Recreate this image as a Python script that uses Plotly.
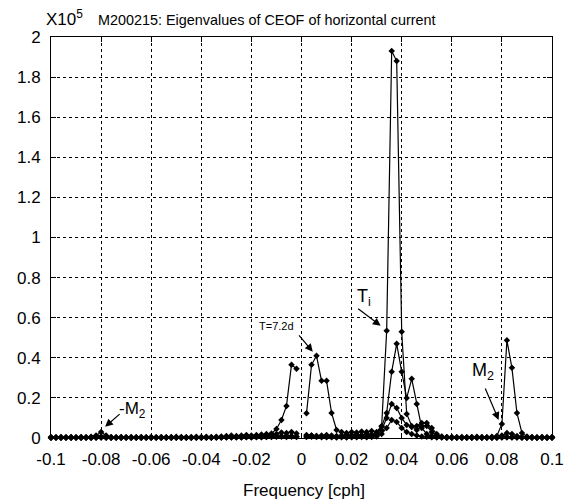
import plotly.graph_objects as go

# ---------------- data ----------------
freq = [
    -0.100, -0.098, -0.096, -0.094, -0.092, -0.090, -0.088, -0.086, -0.084, -0.082,
    -0.080, -0.078, -0.076, -0.074, -0.072, -0.070, -0.068, -0.066, -0.064, -0.062,
    -0.060, -0.058, -0.056, -0.054, -0.052, -0.050, -0.048, -0.046, -0.044, -0.042,
    -0.040, -0.038, -0.036, -0.034, -0.032, -0.030, -0.028, -0.026, -0.024, -0.022,
    -0.020, -0.018, -0.016, -0.014, -0.012, -0.010, -0.008, -0.006, -0.004, -0.002,
    0.000,
    0.002, 0.004, 0.006, 0.008, 0.010, 0.012, 0.014, 0.016, 0.018, 0.020,
    0.022, 0.024, 0.026, 0.028, 0.030, 0.032, 0.034, 0.036, 0.038, 0.040,
    0.042, 0.044, 0.046, 0.048, 0.050, 0.052, 0.054, 0.056, 0.058, 0.060,
    0.062, 0.064, 0.066, 0.068, 0.070, 0.072, 0.074, 0.076, 0.078, 0.080,
    0.082, 0.084, 0.086, 0.088, 0.090, 0.092, 0.094, 0.096, 0.098, 0.100,
]

# eigenvalues (x 1e5), zero frequency not plotted (None)
eig1 = [
    0.005, 0.004, 0.005, 0.004, 0.005, 0.004, 0.005, 0.004, 0.006, 0.012,
    0.030, 0.012, 0.005, 0.004, 0.005, 0.004, 0.005, 0.004, 0.005, 0.004,
    0.005, 0.004, 0.005, 0.004, 0.005, 0.006, 0.005, 0.004, 0.005, 0.006,
    0.005, 0.006, 0.005, 0.006, 0.008, 0.010, 0.012, 0.010, 0.012, 0.015,
    0.012, 0.015, 0.018, 0.020, 0.022, 0.045, 0.090, 0.160, 0.365, 0.345,
    None,
    0.123, 0.365, 0.410, 0.285, 0.285, 0.125, 0.040, 0.030, 0.025, 0.030,
    0.028, 0.032, 0.030, 0.035, 0.030, 0.060, 0.535, 1.930, 1.880, 0.530,
    0.120, 0.060, 0.040, 0.060, 0.060, 0.030, 0.012, 0.006, 0.005, 0.005,
    0.004, 0.005, 0.004, 0.005, 0.006, 0.005, 0.004, 0.006, 0.010, 0.070,
    0.487, 0.350, 0.125, 0.025, 0.008, 0.005, 0.004, 0.005, 0.004, 0.005,
]

eig2 = [
    0.002, 0.003, 0.002, 0.003, 0.002, 0.003, 0.002, 0.003, 0.002, 0.004,
    0.008, 0.004, 0.002, 0.003, 0.002, 0.003, 0.002, 0.003, 0.002, 0.003,
    0.002, 0.003, 0.002, 0.003, 0.002, 0.003, 0.002, 0.003, 0.002, 0.003,
    0.003, 0.004, 0.003, 0.004, 0.005, 0.006, 0.008, 0.006, 0.008, 0.010,
    0.008, 0.010, 0.012, 0.010, 0.015, 0.020, 0.028, 0.025, 0.030, 0.022,
    None,
    0.015, 0.012, 0.010, 0.012, 0.015, 0.012, 0.010, 0.012, 0.015, 0.015,
    0.018, 0.015, 0.020, 0.018, 0.020, 0.057, 0.125, 0.330, 0.470, 0.330,
    0.200, 0.295, 0.170, 0.050, 0.020, 0.010, 0.006, 0.004, 0.003, 0.002,
    0.003, 0.002, 0.003, 0.002, 0.003, 0.002, 0.003, 0.002, 0.004, 0.012,
    0.025, 0.020, 0.010, 0.005, 0.003, 0.002, 0.003, 0.002, 0.003, 0.002,
]

eig3 = [
    0.001, 0.002, 0.001, 0.002, 0.001, 0.002, 0.001, 0.002, 0.001, 0.002,
    0.003, 0.002, 0.001, 0.002, 0.001, 0.002, 0.001, 0.002, 0.001, 0.002,
    0.001, 0.002, 0.001, 0.002, 0.001, 0.002, 0.001, 0.002, 0.001, 0.002,
    0.002, 0.002, 0.002, 0.003, 0.003, 0.004, 0.004, 0.005, 0.004, 0.005,
    0.005, 0.006, 0.005, 0.006, 0.008, 0.008, 0.010, 0.012, 0.010, 0.008,
    None,
    0.010, 0.012, 0.010, 0.008, 0.008, 0.006, 0.006, 0.008, 0.006, 0.008,
    0.008, 0.010, 0.008, 0.010, 0.015, 0.040, 0.100, 0.170, 0.150, 0.100,
    0.065, 0.055, 0.060, 0.075, 0.075, 0.050, 0.020, 0.008, 0.004, 0.002,
    0.002, 0.001, 0.002, 0.001, 0.002, 0.001, 0.002, 0.001, 0.002, 0.004,
    0.006, 0.004, 0.003, 0.002, 0.001, 0.002, 0.001, 0.002, 0.001, 0.002,
]

eig4 = [
    0.001, 0.001, 0.001, 0.001, 0.001, 0.001, 0.001, 0.001, 0.001, 0.001,
    0.002, 0.001, 0.001, 0.001, 0.001, 0.001, 0.001, 0.001, 0.001, 0.001,
    0.001, 0.001, 0.001, 0.001, 0.001, 0.001, 0.001, 0.001, 0.001, 0.001,
    0.001, 0.001, 0.001, 0.002, 0.002, 0.002, 0.003, 0.003, 0.003, 0.004,
    0.003, 0.004, 0.004, 0.005, 0.005, 0.006, 0.006, 0.005, 0.006, 0.005,
    None,
    0.005, 0.006, 0.005, 0.004, 0.004, 0.004, 0.003, 0.004, 0.003, 0.004,
    0.004, 0.005, 0.004, 0.005, 0.008, 0.020, 0.050, 0.090, 0.080, 0.050,
    0.030, 0.020, 0.012, 0.008, 0.006, 0.004, 0.003, 0.002, 0.001, 0.001,
    0.001, 0.001, 0.001, 0.001, 0.001, 0.001, 0.001, 0.001, 0.001, 0.002,
    0.003, 0.002, 0.002, 0.001, 0.001, 0.001, 0.001, 0.001, 0.001, 0.001,
]

series = [eig4, eig3, eig2, eig1]

x_ticks = [-0.1, -0.08, -0.06, -0.04, -0.02, 0, 0.02, 0.04, 0.06, 0.08, 0.1]
x_tick_text = ["-0.1", "-0.08", "-0.06", "-0.04", "-0.02", "0", "0.02", "0.04", "0.06", "0.08", "0.1"]
y_ticks = [0, 0.2, 0.4, 0.6, 0.8, 1.0, 1.2, 1.4, 1.6, 1.8, 2.0]
y_tick_text = ["0", "0.2", "0.4", "0.6", "0.8", "1", "1.2", "1.4", "1.6", "1.8", "2"]

FONT = "Liberation Sans, Arial, sans-serif"

fig = go.Figure()
for s in series:
    fig.add_trace(go.Scatter(
        x=freq, y=s, mode="lines+markers",
        line=dict(color="black", width=1.2),
        marker=dict(symbol="diamond", size=5, color="black"),
        connectgaps=False, cliponaxis=False, showlegend=False,
    ))

axis_common = dict(
    showline=True, linecolor="black", linewidth=1, mirror="ticks",
    ticks="inside", ticklen=5, tickcolor="black",
    showgrid=True, gridcolor="black", gridwidth=1, griddash="dot",
    zeroline=False, tickfont=dict(family=FONT, size=17, color="black"),
)

fig.update_xaxes(range=[-0.1, 0.1], tickvals=x_ticks, ticktext=x_tick_text,
                 ticklabelstandoff=6, **axis_common)
fig.update_yaxes(range=[0, 2], tickvals=y_ticks, ticktext=y_tick_text,
                 ticklabelstandoff=6, **axis_common)

annotations = [
    # title pieces
    dict(xref="paper", yref="paper", x=0, y=1, xanchor="left", yanchor="bottom",
         xshift=-7, yshift=6, text="X10<sup>5</sup>", showarrow=False,
         font=dict(family=FONT, size=17, color="black")),
    dict(xref="paper", yref="paper", x=0, y=1, xanchor="left", yanchor="bottom",
         xshift=45, yshift=7, text="M200215: Eigenvalues of CEOF of horizontal current",
         showarrow=False, font=dict(family=FONT, size=14.4, color="black")),
    # x axis title
    dict(xref="paper", yref="paper", x=0.504, y=0, xanchor="center", yanchor="middle",
         yshift=-52, text="Frequency [cph]", showarrow=False,
         font=dict(family=FONT, size=17, color="black")),
    # arrows
    dict(x=0.0316, y=0.56, ax=-24, ay=-18, text="", showarrow=True,
         arrowhead=2, arrowsize=1.3, arrowwidth=1.2, arrowcolor="black"),
    dict(x=0.0045, y=0.43, ax=-15, ay=-18, text="", showarrow=True,
         arrowhead=2, arrowsize=1.3, arrowwidth=1.2, arrowcolor="black"),
    dict(x=0.0787, y=0.09, ax=-14, ay=-33, text="", showarrow=True,
         arrowhead=2, arrowsize=1.3, arrowwidth=1.2, arrowcolor="black"),
    dict(x=-0.0784, y=0.056, ax=16, ay=-14, text="", showarrow=True,
         arrowhead=2, arrowsize=1.3, arrowwidth=1.2, arrowcolor="black"),
    # labels
    dict(x=0.0250, y=0.70, text="T<sub>i</sub>", showarrow=False,
         font=dict(family=FONT, size=18, color="black")),
    dict(x=-0.010, y=0.56, text="T=7.2d", showarrow=False,
         font=dict(family=FONT, size=11, color="black")),
    dict(x=0.0725, y=0.33, text="M<sub>2</sub>", showarrow=False,
         font=dict(family=FONT, size=18, color="black")),
    dict(x=-0.0675, y=0.14, text="-M<sub>2</sub>", showarrow=False,
         font=dict(family=FONT, size=17, color="black")),
]

fig.update_layout(
    width=576, height=502,
    margin=dict(l=51, r=16, t=37, b=64),
    paper_bgcolor="white", plot_bgcolor="white",
    font=dict(family=FONT, color="black"),
    annotations=annotations,
)

fig.write_html("out.html")
